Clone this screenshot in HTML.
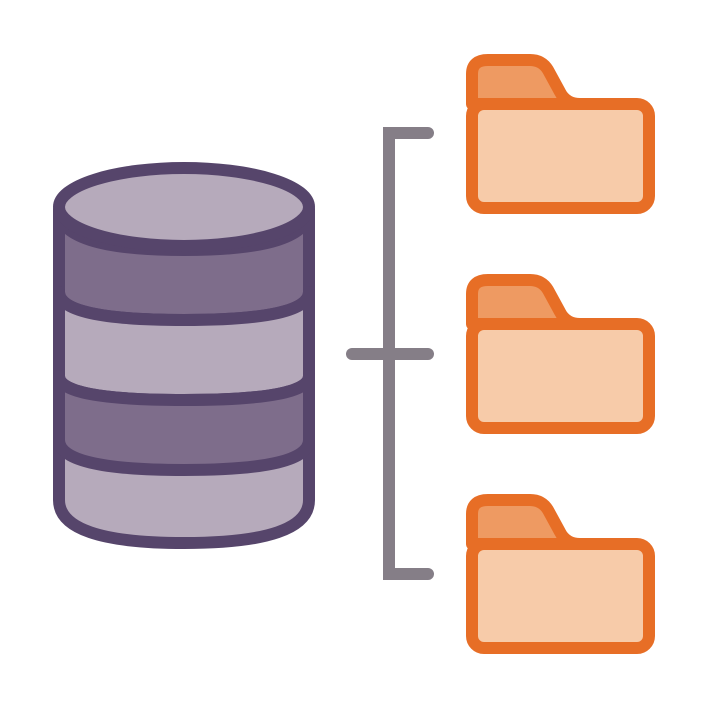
<!DOCTYPE html>
<html><head><style>html,body{margin:0;padding:0;background:#fff;}svg{display:block}</style></head>
<body>
<svg width="710" height="709" viewBox="0 0 710 709" xmlns="http://www.w3.org/2000/svg">
<g stroke="#857e87" stroke-width="12" stroke-linecap="round" fill="none">
<path d="M428 133 H389 V574 H428"/>
<path d="M352 354 H428"/>
</g>
<g stroke="#56456b" stroke-width="12" stroke-linejoin="round">
<path d="M59 210 V500 Q59 543 184 543 Q309 543 309 500 V210 Z" fill="#b6aabb"/>
<path d="M59 210 Q59 250 184 250 Q309 250 309 210 V292 Q309 320 184 320 Q59 320 59 292 Z" fill="#7e6d8b"/>
<path d="M59 292 Q59 320 184 320 Q309 320 309 292 V376 Q309 400 184 400 Q59 400 59 376 Z" fill="#b6aabb"/>
<path d="M59 376 Q59 400 184 400 Q309 400 309 376 V440 Q309 470 184 470 Q59 470 59 440 Z" fill="#7e6d8b"/>
<ellipse cx="184" cy="207" rx="125" ry="39" fill="#b6aabb"/>
</g>
<defs>
<g id="f">
<path d="M472 104 V74 Q472 60 488 60 H530 Q542 60 548 70 L560 92 Q566 104 580 104 Z" fill="#ee9a62" stroke="#e76e26" stroke-width="12" stroke-linejoin="round"/>
<rect x="472" y="104" width="177" height="104" rx="12" fill="#f7cba9" stroke="#e76e26" stroke-width="12"/>
</g>
</defs>
<use href="#f"/>
<use href="#f" y="220"/>
<use href="#f" y="440"/>
</svg>
</body></html>
